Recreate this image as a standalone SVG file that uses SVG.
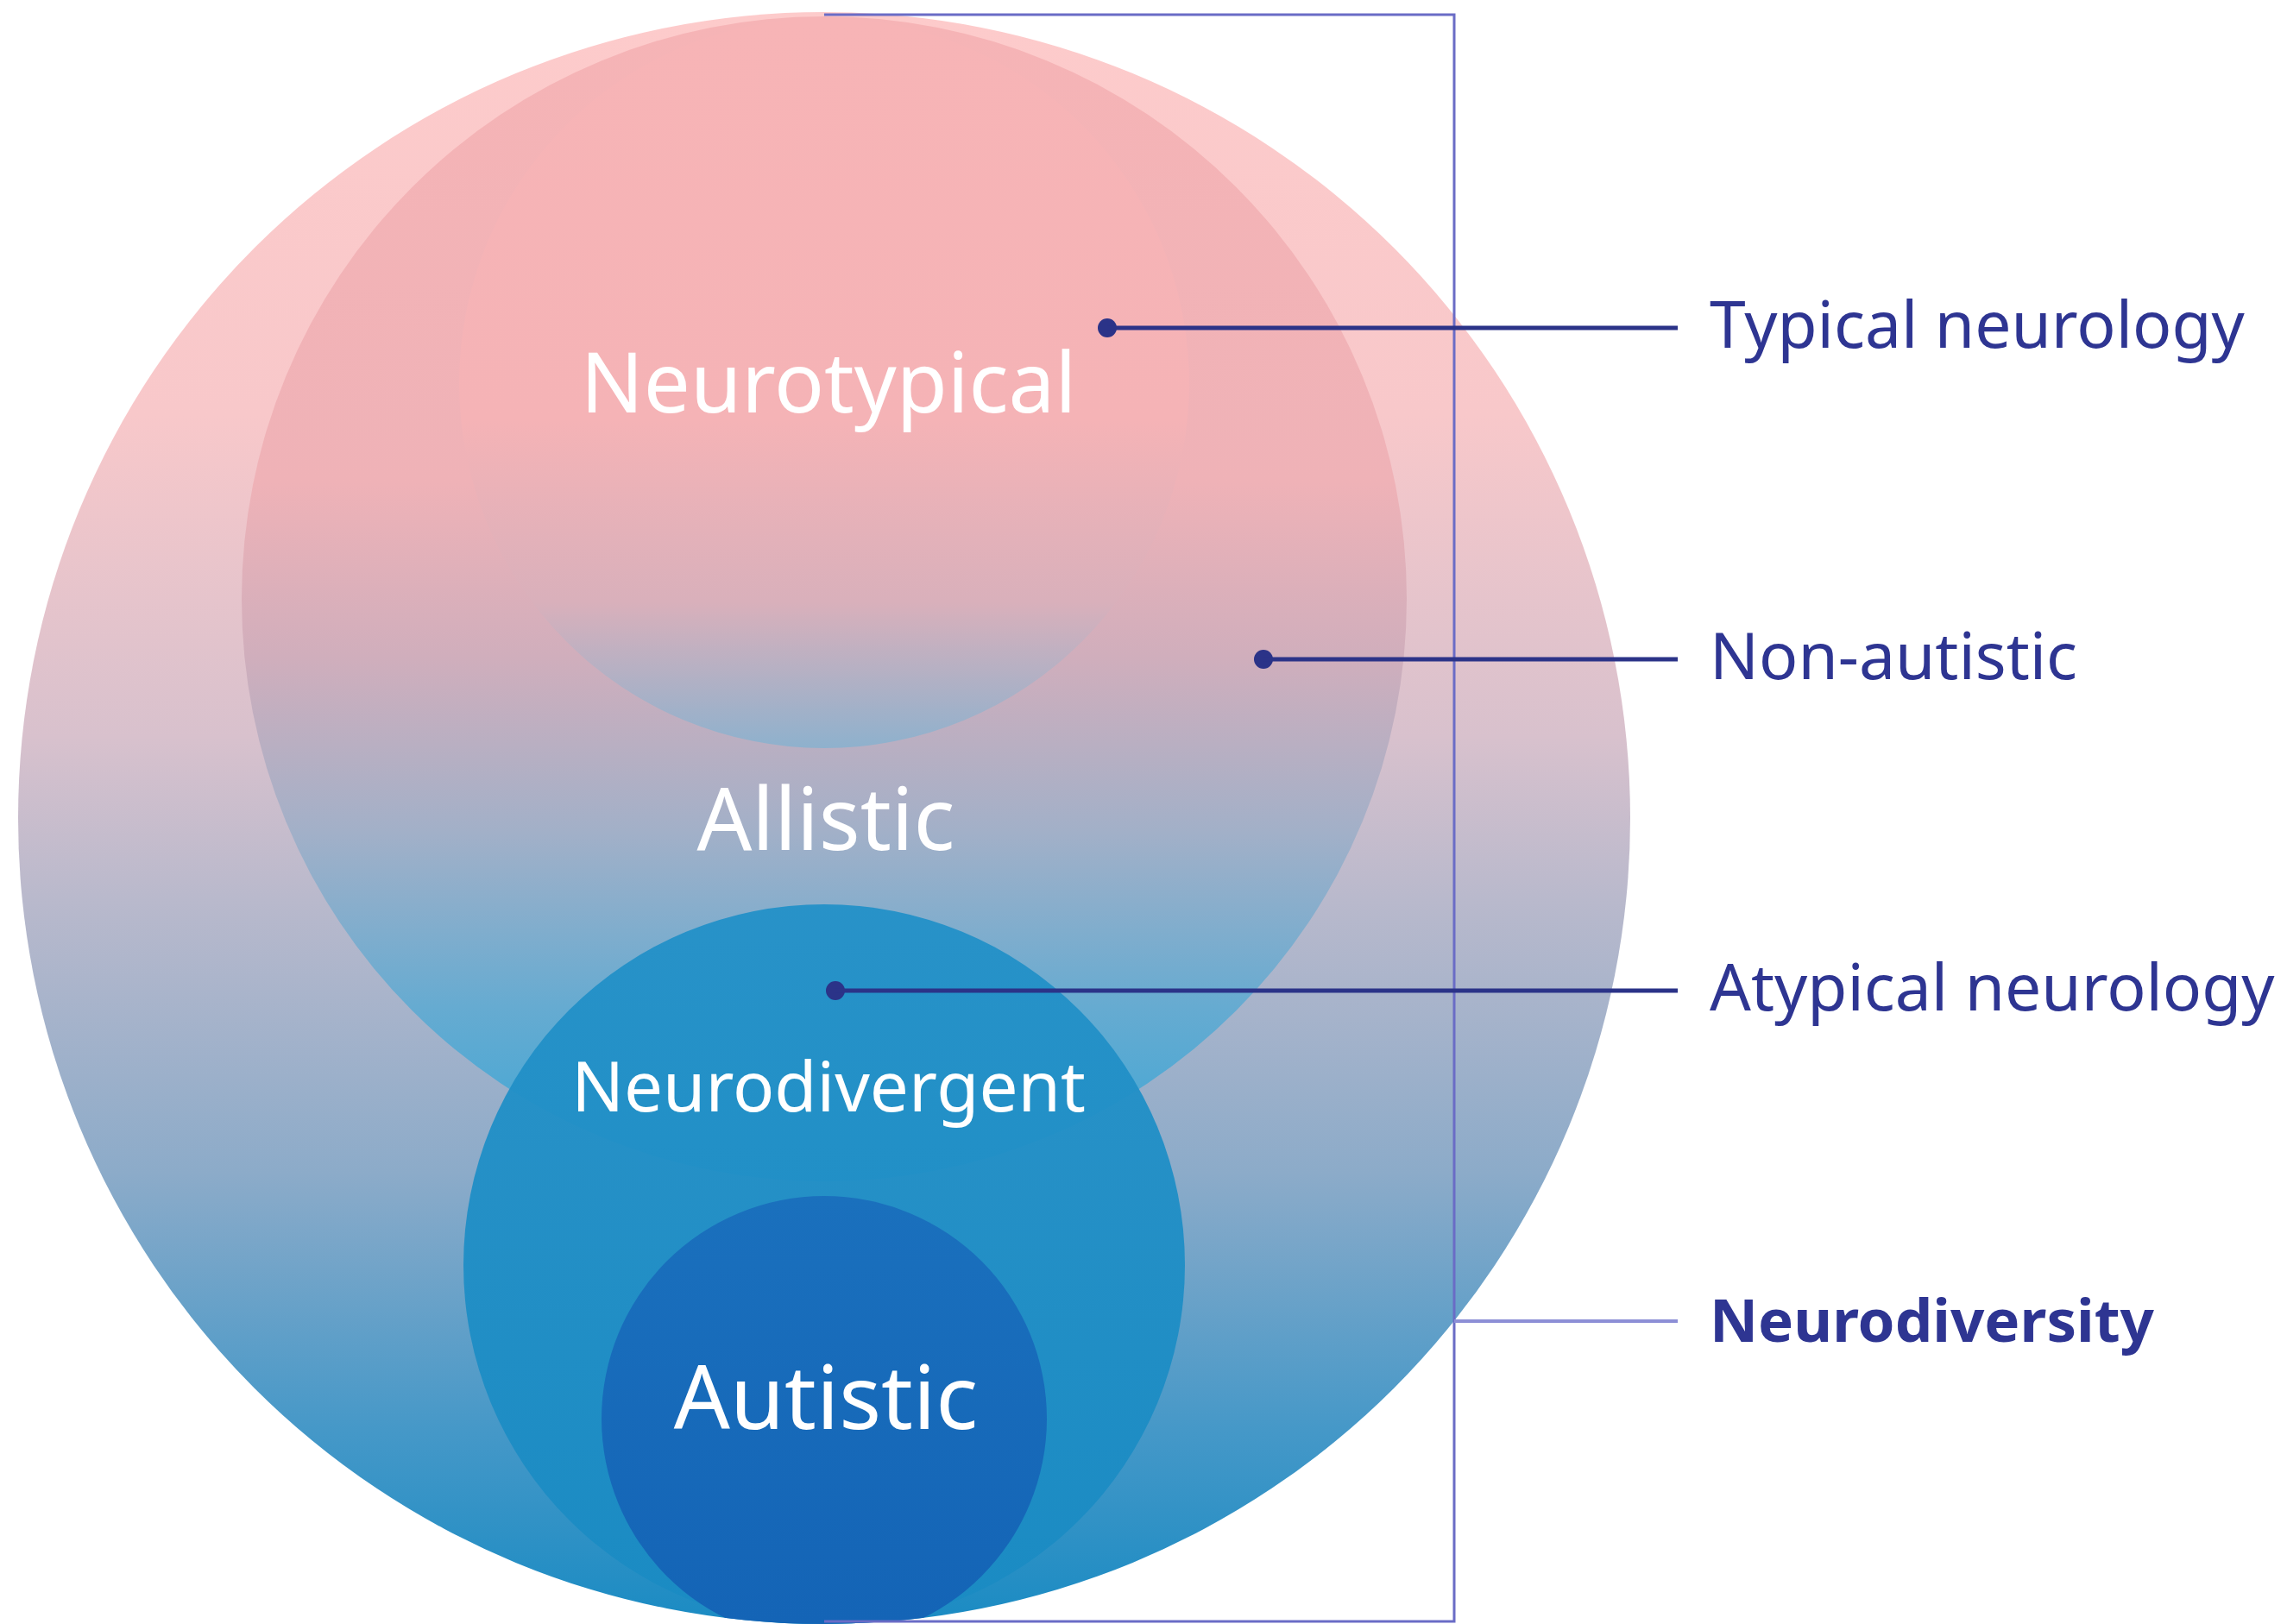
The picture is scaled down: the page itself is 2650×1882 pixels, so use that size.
<svg xmlns="http://www.w3.org/2000/svg" width="2650" height="1882" viewBox="0 0 2650 1882">
<defs>
<linearGradient id="gBig" gradientUnits="userSpaceOnUse" x1="0" y1="14" x2="0" y2="1882">
<stop offset="0" stop-color="#fdcbcb"/>
<stop offset="0.25" stop-color="#f8c8ca"/>
<stop offset="0.45" stop-color="#d8c1cd"/>
<stop offset="0.55" stop-color="#b9b9cc"/>
<stop offset="0.72" stop-color="#8cabc9"/>
<stop offset="0.88" stop-color="#4598c8"/>
<stop offset="1" stop-color="#1a8bc3"/>
</linearGradient>
<linearGradient id="gAll" gradientUnits="userSpaceOnUse" x1="0" y1="19" x2="0" y2="1369">
<stop offset="0" stop-color="#f6b4b6"/>
<stop offset="0.4" stop-color="#efb2b7"/>
<stop offset="0.55" stop-color="#d0aebc"/>
<stop offset="0.7" stop-color="#a2b0c8"/>
<stop offset="0.85" stop-color="#66abd1"/>
<stop offset="1" stop-color="#3aa6d6"/>
</linearGradient>
<linearGradient id="gNT" gradientUnits="userSpaceOnUse" x1="0" y1="21" x2="0" y2="867">
<stop offset="0" stop-color="#f7b4b6"/>
<stop offset="0.55" stop-color="#f5b3b6"/>
<stop offset="0.8" stop-color="#d9b0bb"/>
<stop offset="1" stop-color="#8eb1cd"/>
</linearGradient>
<linearGradient id="gND" gradientUnits="userSpaceOnUse" x1="0" y1="1048" x2="0" y2="1882">
<stop offset="0" stop-color="#2491c8"/>
<stop offset="1" stop-color="#1a8bc3"/>
</linearGradient>
<linearGradient id="gAut" gradientUnits="userSpaceOnUse" x1="0" y1="1386" x2="0" y2="1882">
<stop offset="0" stop-color="#1a70bd"/>
<stop offset="1" stop-color="#1464b6"/>
</linearGradient>
<clipPath id="clipBig"><circle cx="955" cy="948" r="934"/></clipPath>
</defs>
<style>
.in{font-family:"Noto Sans","Liberation Sans",sans-serif;fill:#ffffff;text-anchor:middle}
.lab{font-family:"Noto Sans","Liberation Sans",sans-serif;fill:#2e3592;font-size:75px}
.lead{stroke:#2b3388;stroke-width:5;fill:none}
.brk{stroke:#6a6cc6;stroke-width:3;fill:none}
.dot{fill:#2b3388}
</style>
<g id="neurodiversity-circle">
<circle cx="955" cy="948" r="934" fill="url(#gBig)"/>
</g>
<g clip-path="url(#clipBig)">
<g id="allistic-circle">
<circle cx="955" cy="694" r="675" fill="url(#gAll)"/>
</g>
<g id="neurotypical-circle">
<circle cx="955" cy="444" r="423" fill="url(#gNT)"/>
</g>
<g id="neurodivergent-circle">
<circle cx="955" cy="1466" r="418" fill="url(#gND)" fill-opacity="0.96"/>
</g>
<g id="autistic-circle">
<circle cx="955" cy="1644" r="258" fill="url(#gAut)"/>
</g>
</g>
<g id="inner-labels">
<text class="in" x="960" y="478" font-size="96">Neurotypical</text>
<text class="in" x="957" y="985" font-size="100">Allistic</text>
<text class="in" x="960" y="1288" font-size="80">Neurodivergent</text>
<text class="in" x="957" y="1656" font-size="102">Autistic</text>
</g>
<g id="connectors">
<path class="brk" d="M955 17 H1685 V1879 H955"/>
<path class="brk" d="M1685 1531 H1944" style="stroke:#8d8fd6;stroke-width:4"/>
<circle class="dot" cx="1283" cy="380" r="11"/>
<path class="lead" d="M1283 380 H1944"/>
<circle class="dot" cx="1464" cy="764" r="11"/>
<path class="lead" d="M1464 764 H1944"/>
<circle class="dot" cx="968" cy="1148" r="11"/>
<path class="lead" d="M968 1148 H1944"/>
</g>
<g id="right-labels">
<text class="lab" x="1981" y="403">Typical neurology</text>
<text class="lab" x="1981" y="787">Non-autistic</text>
<text class="lab" x="1981" y="1171">Atypical neurology</text>
<text class="lab" x="1981" y="1555" style="font-weight:bold;font-size:69px">Neurodiversity</text>
</g>
</svg>
